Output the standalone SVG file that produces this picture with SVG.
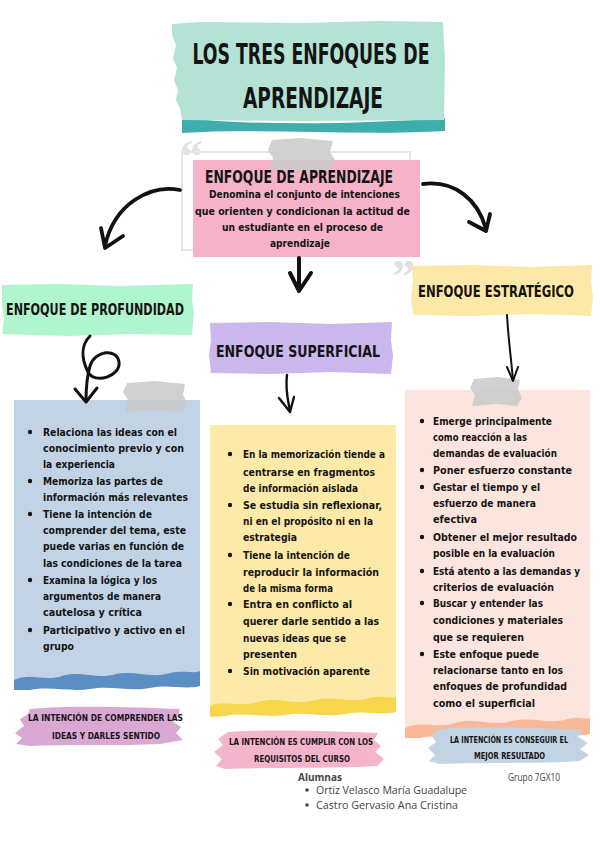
<svg xmlns="http://www.w3.org/2000/svg" width="600" height="848" viewBox="0 0 600 848">
<defs>
<style>
.hand{font-family:"Liberation Sans Narrow","DejaVu Sans Condensed","Liberation Sans",sans-serif;font-stretch:condensed;fill:#141414;}
.head{font-weight:bold;font-size:15px;}
.title{font-size:28px;font-weight:bold;}
.body{font-size:10.5px;font-weight:bold;}
.lab{font-size:9px;font-weight:bold;}
.arrow{fill:none;stroke:#111;stroke-linecap:round;stroke-linejoin:round;}
.tape{fill:#c9c9c9;opacity:0.85;}
.quote{fill:#dde2e8;font-family:"Liberation Serif",serif;font-size:46px;font-weight:bold;}
.info{font-family:"Open Sans","Noto Sans",sans-serif;fill:#444;font-size:10px;}
</style>
</defs>
<rect width="600" height="848" fill="#ffffff"/>

<g id="title">
<path d="M182,118 C260,126 360,124 445,118 L445,131 C360,136 260,128 182,133 Z" fill="#3eaeac"/>
<path d="M172,24 L200,22 L300,23 L380,21 L443,22 L445,60 L444,120 L300,121 L182,120 L180,108 L176,100 L178,90 L174,80 L177,68 L173,58 L176,45 L172,35 Z" fill="#b4e2d5"/>
<text class="hand title" x="311" y="64" text-anchor="middle" textLength="237" lengthAdjust="spacingAndGlyphs">LOS TRES ENFOQUES DE</text>
<text class="hand title" x="313" y="108" text-anchor="middle" textLength="140" lengthAdjust="spacingAndGlyphs">APRENDIZAJE</text>
</g>

<g id="enfoque-aprendizaje">
<text class="quote" x="180" y="172">“</text>
<text class="quote" x="392" y="292">”</text>
<rect x="182" y="152" width="228" height="98" fill="none" stroke="#e3e7ec" stroke-width="2"/>
<rect x="193" y="160" width="227" height="97" fill="#f5b2c9"/>
<path class="tape" d="M272,140 L300,138 L333,141 L330,152 L335,160 L331,170 L300,172 L270,169 L273,158 L268,150 Z"/>
<text class="hand" x="299" y="183" text-anchor="middle" font-size="17" font-weight="bold" textLength="188" lengthAdjust="spacingAndGlyphs">ENFOQUE DE APRENDIZAJE</text>
<text class="hand body" x="304.5" y="198" text-anchor="middle" font-size="10" textLength="191" lengthAdjust="spacingAndGlyphs">Denomina el conjunto de intenciones</text>
<text class="hand body" x="302.5" y="215" text-anchor="middle" font-size="10" textLength="215" lengthAdjust="spacingAndGlyphs">que orienten y condicionan la actitud de</text>
<text class="hand body" x="302.5" y="231" text-anchor="middle" font-size="10" textLength="161" lengthAdjust="spacingAndGlyphs">un estudiante en el proceso de</text>
<text class="hand body" x="300" y="247" text-anchor="middle" font-size="10" textLength="60" lengthAdjust="spacingAndGlyphs">aprendizaje</text>
</g>

<g id="header-profundidad">
<path d="M2,285 L60,284 L120,286 L193,284 L192,300 L194,312 L192,335 L130,334 L70,336 L2,334 L4,320 L2,305 Z" fill="#b1f5cf"/>
<text class="hand head" x="6" y="315" textLength="178" lengthAdjust="spacingAndGlyphs">ENFOQUE DE PROFUNDIDAD</text>
</g>

<g id="header-superficial">
<path d="M210,323 L270,322 L330,324 L392,322 L391,340 L393,356 L391,374 L330,372 L270,374 L211,373 L209,355 L211,340 Z" fill="#cbb7ec"/>
<text class="hand head" x="216" y="357" textLength="164" lengthAdjust="spacingAndGlyphs">ENFOQUE SUPERFICIAL</text>
</g>

<g id="header-estrategico">
<path d="M412,266 L470,265 L530,267 L592,265 L591,282 L593,298 L591,316 L530,314 L470,316 L413,315 L411,298 L413,282 Z" fill="#fde9a7"/>
<text class="hand head" x="418" y="297" textLength="156" lengthAdjust="spacingAndGlyphs">ENFOQUE ESTRATÉGICO</text>
</g>

<g id="box-profundidad">
<rect x="14" y="400" width="186" height="280" fill="#c1d3e4"/>
<path d="M14,680 C30,672 45,682 62,676 C80,670 97,680 116,674 C135,670 150,679 170,673 C185,670 194,674 200,671 L200,686 C185,690 170,684 150,688 C130,692 110,685 90,689 C70,692 50,686 30,690 L14,690 Z" fill="#5b8ec3"/>
<path class="tape" d="M127,383 L155,381 L185,384 L183,395 L187,403 L182,412 L155,410 L125,412 L128,400 L123,392 Z"/>
<g fill="#141414">
<circle cx="30" cy="432" r="2.2"/><circle cx="30" cy="481" r="2.2"/><circle cx="30" cy="514" r="2.2"/><circle cx="30" cy="580" r="2.2"/><circle cx="30" cy="630" r="2.2"/>
</g>
<text class="hand body" x="43" y="436" textLength="134" lengthAdjust="spacingAndGlyphs">Relaciona las ideas con el</text>
<text class="hand body" x="43" y="452" textLength="141" lengthAdjust="spacingAndGlyphs">conocimiento previo y con</text>
<text class="hand body" x="43" y="468" textLength="72" lengthAdjust="spacingAndGlyphs">la experiencia</text>
<text class="hand body" x="43" y="485" textLength="120" lengthAdjust="spacingAndGlyphs">Memoriza las partes de</text>
<text class="hand body" x="43" y="501" textLength="145" lengthAdjust="spacingAndGlyphs">información más relevantes</text>
<text class="hand body" x="43" y="518" textLength="109" lengthAdjust="spacingAndGlyphs">Tiene la intención de</text>
<text class="hand body" x="43" y="534" textLength="143" lengthAdjust="spacingAndGlyphs">comprender del tema, este</text>
<text class="hand body" x="43" y="550" textLength="141" lengthAdjust="spacingAndGlyphs">puede varias en función de</text>
<text class="hand body" x="43" y="567" textLength="139" lengthAdjust="spacingAndGlyphs">las condiciones de la tarea</text>
<text class="hand body" x="43" y="584" textLength="114" lengthAdjust="spacingAndGlyphs">Examina la lógica y los</text>
<text class="hand body" x="43" y="600" textLength="118" lengthAdjust="spacingAndGlyphs">argumentos de manera</text>
<text class="hand body" x="43" y="616" textLength="99" lengthAdjust="spacingAndGlyphs">cautelosa y crítica</text>
<text class="hand body" x="43" y="634" textLength="142" lengthAdjust="spacingAndGlyphs">Participativo y activo en el</text>
<text class="hand body" x="43" y="650" textLength="31" lengthAdjust="spacingAndGlyphs">grupo</text>
</g>

<g id="box-superficial">
<rect x="210" y="425" width="186" height="280" fill="#feeaa8"/>
<path d="M210,706 C225,699 240,708 258,702 C278,696 295,706 315,700 C335,695 350,704 370,698 C382,695 390,699 396,697 L396,712 C380,716 365,710 345,714 C325,718 305,711 285,715 C265,718 245,712 225,716 L210,717 Z" fill="#f8d64b"/>
<g fill="#141414">
<circle cx="230" cy="454" r="2.2"/><circle cx="230" cy="505" r="2.2"/><circle cx="230" cy="555" r="2.2"/><circle cx="230" cy="604" r="2.2"/><circle cx="230" cy="671" r="2.2"/>
</g>
<text class="hand body" x="243" y="458" textLength="142" lengthAdjust="spacingAndGlyphs">En la memorización tiende a</text>
<text class="hand body" x="243" y="476" textLength="132" lengthAdjust="spacingAndGlyphs">centrarse en fragmentos</text>
<text class="hand body" x="243" y="492" textLength="115" lengthAdjust="spacingAndGlyphs">de información aislada</text>
<text class="hand body" x="243" y="509" textLength="139" lengthAdjust="spacingAndGlyphs">Se estudia sin reflexionar,</text>
<text class="hand body" x="243" y="525" textLength="130" lengthAdjust="spacingAndGlyphs">ni en el propósito ni en la</text>
<text class="hand body" x="243" y="541" textLength="54" lengthAdjust="spacingAndGlyphs">estrategia</text>
<text class="hand body" x="243" y="559" textLength="107" lengthAdjust="spacingAndGlyphs">Tiene la intención de</text>
<text class="hand body" x="243" y="576" textLength="136" lengthAdjust="spacingAndGlyphs">reproducir la información</text>
<text class="hand body" x="243" y="592" textLength="90" lengthAdjust="spacingAndGlyphs">de la misma forma</text>
<text class="hand body" x="243" y="608" textLength="109" lengthAdjust="spacingAndGlyphs">Entra en conflicto al</text>
<text class="hand body" x="243" y="625" textLength="136" lengthAdjust="spacingAndGlyphs">querer darle sentido a las</text>
<text class="hand body" x="243" y="642" textLength="103" lengthAdjust="spacingAndGlyphs">nuevas ideas que se</text>
<text class="hand body" x="243" y="658" textLength="54" lengthAdjust="spacingAndGlyphs">presenten</text>
<text class="hand body" x="243" y="675" textLength="127" lengthAdjust="spacingAndGlyphs">Sin motivación aparente</text>
</g>

<g id="box-estrategico">
<rect x="405" y="390" width="185" height="340" fill="#fbe5de"/>
<path d="M405,728 C420,720 437,729 455,723 C475,717 492,727 512,721 C532,716 548,725 568,719 C580,716 586,720 590,718 L590,734 C575,738 560,732 540,736 C520,740 500,733 480,737 C460,740 440,734 420,738 L405,738 Z" fill="#f9b999"/>
<path class="tape" d="M474,379 L498,377 L520,380 L518,390 L522,398 L517,406 L496,404 L472,406 L475,395 L470,388 Z"/>
<g fill="#141414">
<circle cx="422" cy="421" r="2.2"/><circle cx="422" cy="470" r="2.2"/><circle cx="422" cy="487" r="2.2"/><circle cx="422" cy="537" r="2.2"/><circle cx="422" cy="571" r="2.2"/><circle cx="422" cy="603" r="2.2"/><circle cx="422" cy="654" r="2.2"/>
</g>
<text class="hand body" x="433" y="425" textLength="119" lengthAdjust="spacingAndGlyphs">Emerge principalmente</text>
<text class="hand body" x="433" y="441" textLength="94" lengthAdjust="spacingAndGlyphs">como reacción a las</text>
<text class="hand body" x="433" y="457" textLength="124" lengthAdjust="spacingAndGlyphs">demandas de evaluación</text>
<text class="hand body" x="433" y="474" textLength="139" lengthAdjust="spacingAndGlyphs">Poner esfuerzo constante</text>
<text class="hand body" x="433" y="491" textLength="107" lengthAdjust="spacingAndGlyphs">Gestar el tiempo y el</text>
<text class="hand body" x="433" y="507" textLength="103" lengthAdjust="spacingAndGlyphs">esfuerzo de manera</text>
<text class="hand body" x="433" y="523" textLength="44" lengthAdjust="spacingAndGlyphs">efectiva</text>
<text class="hand body" x="433" y="541" textLength="144" lengthAdjust="spacingAndGlyphs">Obtener el mejor resultado</text>
<text class="hand body" x="433" y="557" textLength="122" lengthAdjust="spacingAndGlyphs">posible en la evaluación</text>
<text class="hand body" x="433" y="575" textLength="147" lengthAdjust="spacingAndGlyphs">Está atento a las demandas y</text>
<text class="hand body" x="433" y="591" textLength="121" lengthAdjust="spacingAndGlyphs">criterios de evaluación</text>
<text class="hand body" x="433" y="607" textLength="110" lengthAdjust="spacingAndGlyphs">Buscar y entender las</text>
<text class="hand body" x="433" y="624" textLength="130" lengthAdjust="spacingAndGlyphs">condiciones y materiales</text>
<text class="hand body" x="433" y="641" textLength="91" lengthAdjust="spacingAndGlyphs">que se requieren</text>
<text class="hand body" x="433" y="658" textLength="106" lengthAdjust="spacingAndGlyphs">Este enfoque puede</text>
<text class="hand body" x="433" y="674" textLength="130" lengthAdjust="spacingAndGlyphs">relacionarse tanto en los</text>
<text class="hand body" x="433" y="690" textLength="134" lengthAdjust="spacingAndGlyphs">enfoques de profundidad</text>
<text class="hand body" x="433" y="707" textLength="102" lengthAdjust="spacingAndGlyphs">como el superficial</text>
</g>

<g id="label-profundidad">
<path d="M30,709 C70,705 130,707 180,709 L178,716 L172,721 L181,727 L176,733 L183,740 L160,744 C120,746 70,744 30,746 L16,744 L22,738 L15,733 L24,726 L20,719 L28,714 Z" fill="#d9a8d3"/>
<text class="hand lab" x="105.5" y="721" text-anchor="middle" textLength="155" lengthAdjust="spacingAndGlyphs">LA INTENCIÓN DE COMPRENDER LAS</text>
<text class="hand lab" x="106" y="739" text-anchor="middle" textLength="108" lengthAdjust="spacingAndGlyphs">IDEAS Y DARLES SENTIDO</text>
</g>

<g id="label-superficial">
<path d="M228,732 C270,729 330,731 378,733 L374,740 L381,746 L375,752 L384,759 L377,766 C330,769 270,767 225,769 L216,766 L222,759 L214,752 L223,745 L218,739 Z" fill="#f4b5cc"/>
<text class="hand lab" x="301" y="745" text-anchor="middle" textLength="144" lengthAdjust="spacingAndGlyphs">LA INTENCIÓN ES CUMPLIR CON LOS</text>
<text class="hand lab" x="302" y="762" text-anchor="middle" textLength="96" lengthAdjust="spacingAndGlyphs">REQUISITOS DEL CURSO</text>
</g>

<g id="label-estrategico">
<path d="M440,729 C480,726 540,728 582,730 L578,737 L588,743 L580,749 L589,755 L580,761 C540,764 480,762 440,764 L429,761 L435,755 L428,748 L436,742 L431,735 Z" fill="#c2d4e4"/>
<text class="hand lab" x="509" y="743" text-anchor="middle" font-size="8" textLength="118" lengthAdjust="spacingAndGlyphs">LA INTENCIÓN ES CONSEGUIR EL</text>
<text class="hand lab" x="509.5" y="759" text-anchor="middle" font-size="8" textLength="71" lengthAdjust="spacingAndGlyphs">MEJOR RESULTADO</text>
</g>

<g id="authors">
<text class="info" x="298" y="781" font-weight="bold" fill="#222">Alumnas</text>
<circle cx="307" cy="790" r="1.8" fill="#444"/>
<text class="info" x="316" y="794" textLength="151" lengthAdjust="spacingAndGlyphs">Ortiz Velasco María Guadalupe</text>
<circle cx="307" cy="805" r="1.8" fill="#444"/>
<text class="info" x="316" y="809" textLength="142" lengthAdjust="spacingAndGlyphs">Castro Gervasio Ana Cristina</text>
<text class="info" x="508" y="781" font-size="10.5" textLength="52" lengthAdjust="spacingAndGlyphs">Grupo 7GX10</text>
</g>

<g id="connectors">
<path class="arrow" stroke-width="3.8" d="M180,190 C150,184 114,204 105,246"/>
<path class="arrow" stroke-width="3.8" d="M101,228 L105,248 L123,236"/>
<path class="arrow" stroke-width="3.8" d="M423,184 C455,180 478,200 486,229"/>
<path class="arrow" stroke-width="3.8" d="M469,222 L486,231 L490,214"/>
<path class="arrow" stroke-width="4" d="M299,258 L299,290"/>
<path class="arrow" stroke-width="4" d="M290,273 L299,291 L311,273"/>
<path class="arrow" stroke-width="3" d="M90,336 C80,346 82,360 88,372 C95,385 121,376 119,362 C117,348 95,350 90,366 C86,380 86,390 86,401"/>
<path class="arrow" stroke-width="3" d="M75,389 L86,402 L97,388"/>
<path class="arrow" stroke-width="2.4" d="M287,375 C285,390 288,400 290,411"/>
<path class="arrow" stroke-width="2.4" d="M279,398 L290,412 L294,397"/>
<path class="arrow" stroke-width="2" d="M507,315 C508,335 511,358 513,380"/>
<path class="arrow" stroke-width="2" d="M507,367 L513,381 L518,367"/>
</g>
</svg>
